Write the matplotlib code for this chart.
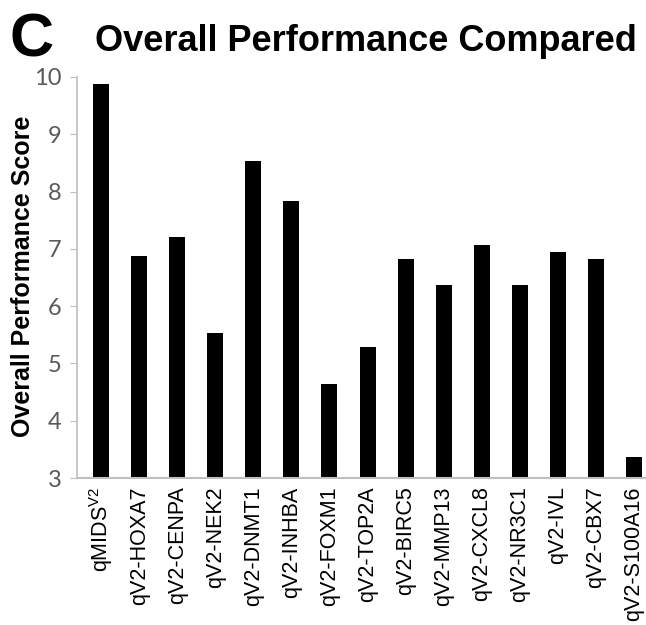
import matplotlib
matplotlib.use("Agg")
import matplotlib.pyplot as plt

plt.rcParams['mathtext.fontset'] = 'custom'
plt.rcParams['mathtext.rm'] = 'Liberation Sans'

# data
genes = [r'qMIDS$^{\mathrm{V2}}$', 'qV2-HOXA7', 'qV2-CENPA', 'qV2-NEK2', 'qV2-DNMT1',
         'qV2-INHBA', 'qV2-FOXM1', 'qV2-TOP2A', 'qV2-BIRC5', 'qV2-MMP13',
         'qV2-CXCL8', 'qV2-NR3C1', 'qV2-IVL', 'qV2-CBX7', 'qV2-S100A16']
scores = [9.87, 6.88, 7.20, 5.54, 8.54, 7.83, 4.64, 5.28, 6.82, 6.37,
          7.07, 6.37, 6.94, 6.82, 3.37]
yticks = [3, 4, 5, 6, 7, 8, 9, 10]

fig = plt.figure(figsize=(6.46, 6.25), dpi=100)
ax = fig.add_axes([0.119, 0.235, 0.881, 0.642])

x = list(range(len(genes)))
ax.bar(x, [s - 3 for s in scores], bottom=3, width=0.42, color='black')

ax.set_ylim(3, 10)
ax.set_xlim(-0.64, 14.32)
ax.set_yticks(yticks)
ax.set_yticklabels([str(t) for t in yticks], family=['Lato', 'DejaVu Sans'],
                   fontsize=17, color='#595959')
ax.tick_params(axis='y', length=5, color='#bfbfbf', pad=6)
ax.set_xticks(x)
ax.set_xticklabels(genes, rotation=90, family='Liberation Sans', fontsize=15.5,
                   va='top', ha='center')
ax.tick_params(axis='x', length=0, pad=6)

for side in ['top', 'right']:
    ax.spines[side].set_visible(False)
ax.spines['left'].set_color('#bfbfbf')
ax.spines['bottom'].set_color('#bfbfbf')
ax.spines['left'].set_linewidth(1.2)
ax.spines['bottom'].set_linewidth(1.5)

fig.text(0.035, 0.558, 'Overall Performance Score', rotation=90, ha='center', va='center',
         family='Liberation Sans', fontweight='bold', fontsize=18)

fig.text(0.566, 0.933, 'Overall Performance Compared', ha='center', va='center',
         family='Liberation Sans', fontweight='bold', fontsize=26)
fig.text(0.014, 0.935, 'C', ha='left', va='center', family='Liberation Sans',
         fontweight='bold', fontsize=44)

fig.savefig('out.png', dpi=100)
